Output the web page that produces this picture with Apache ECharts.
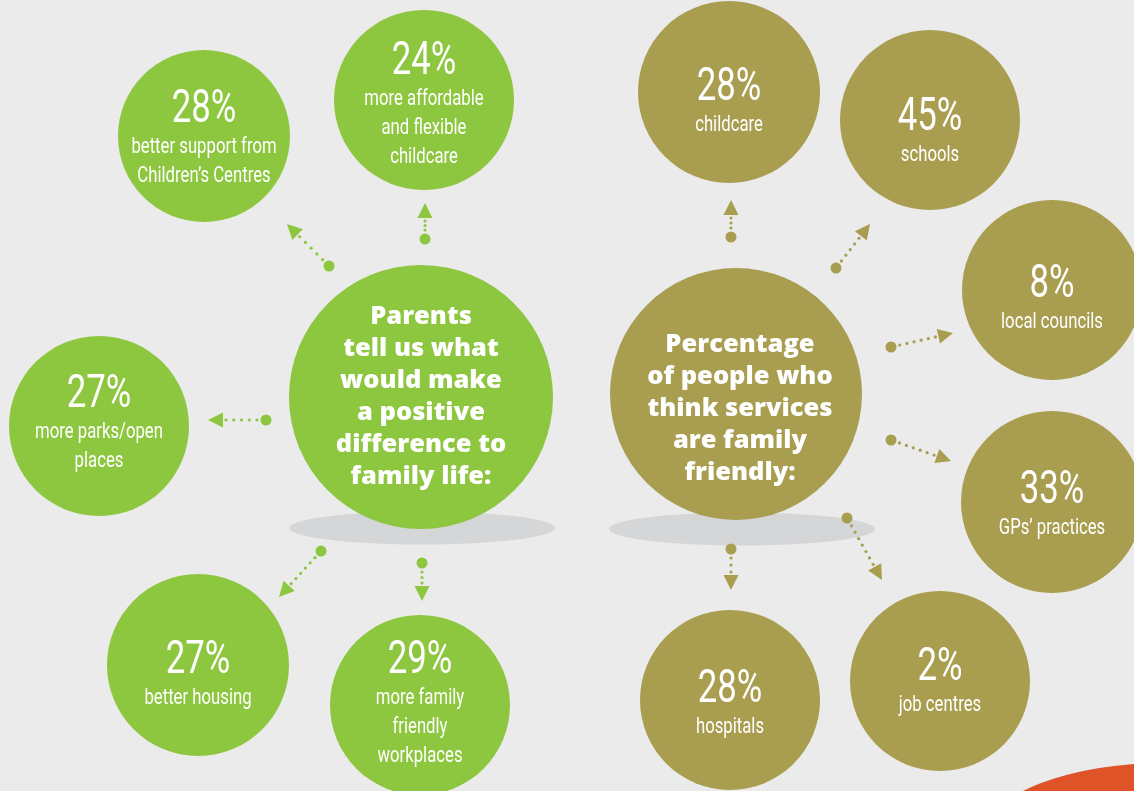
<!DOCTYPE html>
<html><head><meta charset="utf-8">
<script src="https://cdn.jsdelivr.net/npm/echarts@6/dist/echarts.min.js"></script>
<style>html,body{margin:0;padding:0;background:#ebebeb}#c{width:1134px;height:791px}</style>
</head><body><div id="c"></div>
<script>
// ---- data ----
const greenPercents = ['28%', '24%', '27%', '27%', '29%'];
const greenLabels = [
  ['better support from', 'Children’s Centres'],
  ['more affordable', 'and flexible', 'childcare'],
  ['more parks/open', 'places'],
  ['better housing'],
  ['more family', 'friendly', 'workplaces']
];
const oliveCategories = ['childcare', 'schools', 'local councils', 'GPs’ practices', 'job centres', 'hospitals'];
const oliveValues = [28, 45, 8, 33, 2, 28];
const greenTitle = ['Parents', 'tell us what', 'would make', 'a positive', 'difference to', 'family life:'];
const oliveTitle = ['Percentage', 'of people who', 'think services', 'are family', 'friendly:'];

// ---- layout (pixel space): cx, cy, r, percent-line offset ----
const greenPos = [[204,136,86,-26],[424,100,90,-38],[99,426,90,-31],[198,665,91,-4],[420,705,90,-44]];
const olivePos = [[729,92,91,-4],[930,120,90,-2],[1052,290,90,-5],[1052,502,91,-11],[940,681,90,-13],[730,700,90,-10]];
const greenCenter = [421,397,132];
const oliveCenter = [736,394,126];
const greenArrows = [[329,266,287,224],[425,239,425,203],[266,420,208,420],[321,551,279,597],[422,563,422,601]];
const oliveArrows = [[731,237,731,200],[836,268,870,224],[891,347,953,333],[891,440,951,461],[847,518,882,580],[731,549,731,590]];

const GREEN = '#8dc63f', OLIVE = '#a99d4f', BG = '#ebebeb';
const COND = 'Roboto, "Liberation Sans", sans-serif';
const ROUND = '"Open Sans", Lato, sans-serif';

const items = [];
greenPos.forEach((p, i) => items.push({value: [p[0], p[1], p[2], p[3]], pct: greenPercents[i], lines: greenLabels[i], color: GREEN}));
olivePos.forEach((p, i) => items.push({value: [p[0], p[1], p[2], p[3]], pct: oliveValues[i] + '%', lines: [oliveCategories[i]], color: OLIVE}));

function circleItem(params, api) {
  const it = items[params.dataIndex];
  const c = api.coord([api.value(0), api.value(1)]);
  const r = api.value(2), dy = api.value(3);
  const ch = [{type: 'circle', shape: {cx: c[0], cy: c[1], r: r}, style: {fill: it.color}}];
  const py = c[1] + dy;
  ch.push({type: 'text', x: c[0], y: py, scaleX: 0.74, z2: 5,
    style: {text: it.pct, font: 'normal 47px ' + COND, fill: '#fff', textAlign: 'center', textVerticalAlign: 'middle'}});
  it.lines.forEach((l, k) => {
    ch.push({type: 'text', x: c[0], y: py + 37 + k * 29, scaleX: 0.76, z2: 5,
      style: {text: l, font: 'normal 22px ' + COND, fill: '#fff', textAlign: 'center', textVerticalAlign: 'middle'}});
  });
  return {type: 'group', children: ch};
}

function arrowItem(color) {
  return function (params, api) {
    const a = api.coord([api.value(0), api.value(1)]);
    const b = api.coord([api.value(2), api.value(3)]);
    const dx = b[0] - a[0], dy = b[1] - a[1];
    const len = Math.sqrt(dx * dx + dy * dy);
    const ux = dx / len, uy = dy / len, px = -uy, py = ux;
    const head = 15, hw = 7.5;
    const base = [b[0] - ux * head, b[1] - uy * head];
    const children = [{type: 'circle', shape: {cx: a[0], cy: a[1], r: 5.5}, style: {fill: color}}];
    const startD = 9, endD = len - head - 3;
    const n = Math.max(2, Math.round((endD - startD) / 7.5));
    for (let k = 0; k <= n; k++) {
      const d = startD + (endD - startD) * k / n;
      children.push({type: 'circle', shape: {cx: a[0] + ux * d, cy: a[1] + uy * d, r: 1.6}, style: {fill: color}});
    }
    children.push({type: 'polygon', shape: {points: [b, [base[0] + px * hw, base[1] + py * hw], [base[0] - px * hw, base[1] - py * hw]]}, style: {fill: color}});
    return {type: 'group', children: children};
  };
}

const chart = echarts.init(document.getElementById('c'), null, {renderer: 'canvas'});
chart.setOption({
  backgroundColor: BG,
  animation: false,
  grid: {left: 0, right: 0, top: 0, bottom: 0},
  xAxis: {type: 'value', min: 0, max: 1134, show: false},
  yAxis: {type: 'value', min: 0, max: 791, inverse: true, show: false},
  series: [
    {type: 'scatter', z: 1, silent: true, symbol: 'circle', clip: false,
     itemStyle: {color: '#d5d6d8', opacity: 1},
     data: [{value: [422, 528], symbolSize: [266, 33]}, {value: [742, 529], symbolSize: [266, 33]}]},
    {type: 'custom', z: 2, clip: false, renderItem: circleItem, data: items.map(d => d.value)},
    {type: 'scatter', z: 2, symbol: 'circle', clip: false,
     label: {show: true, position: 'inside', color: '#fff', fontFamily: ROUND, fontWeight: 800, fontSize: 25.5, lineHeight: 32},
     data: [
       {value: [greenCenter[0], greenCenter[1]], symbolSize: greenCenter[2] * 2, itemStyle: {color: GREEN, opacity: 1},
        label: {formatter: greenTitle.join('\n'), offset: [0, 0]}},
       {value: [oliveCenter[0], oliveCenter[1]], symbolSize: oliveCenter[2] * 2, itemStyle: {color: OLIVE, opacity: 1},
        label: {formatter: oliveTitle.join('\n'), offset: [4, 15]}}
     ]},
    {type: 'custom', z: 3, clip: false, renderItem: arrowItem(GREEN), data: greenArrows},
    {type: 'custom', z: 3, clip: false, renderItem: arrowItem(OLIVE), data: oliveArrows},
    {type: 'scatter', z: 4, symbol: 'circle', clip: false, silent: true, itemStyle: {color: '#de5428', opacity: 1},
     data: [{value: [1170, 835], symbolSize: [370, 145]}]}
  ]
});
</script></body></html>
